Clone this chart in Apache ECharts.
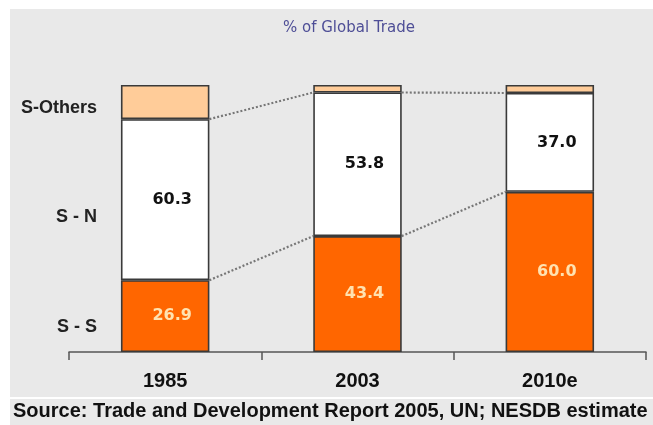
<!DOCTYPE html>
<html>
<head>
<meta charset="utf-8">
<script src="https://cdn.jsdelivr.net/npm/echarts@6/dist/echarts.min.js"></script>
<style>html,body{margin:0;padding:0;background:#fff}#c{width:653px;height:425px}</style>
</head>
<body>
<div id="c"></div>
<script>
const years = ['1985', '2003', '2010e'];
const southSouth = [26.9, 43.4, 60.0];
const southNorth = [60.3, 53.8, 37.0];
const southOthers = [12.8, 2.8, 3.0];
const rowLabels = ['S-Others', 'S - N', 'S - S'];
const titleText = '% of Global Trade';
const sourceText = 'Source: Trade and Development Report 2005, UN; NESDB estimate';

const levelSS = southSouth.map(v => v);
const levelSN = southSouth.map((v, i) => v + southNorth[i]);

const chart = echarts.init(document.getElementById('c'), null, {renderer: 'canvas'});
const BAR_FRAC = 0.46;
const border = {borderColor: '#3a3a3a', borderWidth: 1.6};
const rowFont = {fontFamily: 'Liberation Sans, Arial', fontWeight: 'bold', fontSize: 18, fill: '#222', align: 'right', verticalAlign: 'middle'};

chart.setOption({
  backgroundColor: '#ffffff',
  animation: false,
  title: {
    text: titleText,
    left: 278, top: 16,
    textStyle: {fontFamily: 'DejaVu Sans', fontSize: 15, fontWeight: 'normal', color: '#4e4e96'}
  },
  grid: {left: 69, right: 7, top: 85, bottom: 73},
  xAxis: {
    type: 'category', data: years,
    axisLine: {lineStyle: {color: '#555', width: 1.5}},
    axisTick: {show: true, length: 8, lineStyle: {color: '#555', width: 1.5}},
    axisLabel: {fontFamily: 'Liberation Sans, Arial', fontWeight: 'bold', fontSize: 20, color: '#111', margin: 19}
  },
  yAxis: {type: 'value', min: 0, max: 100, show: false},
  graphic: {elements: [
    {type: 'rect', z: -10, shape: {x: 10, y: 9, width: 643, height: 388}, style: {fill: '#e9e9e9'}},
    {type: 'rect', z: -10, shape: {x: 10, y: 399, width: 643, height: 26}, style: {fill: '#e9e9e9'}},
    {type: 'text', z: 10, x: 97, y: 108, style: Object.assign({text: rowLabels[0]}, rowFont)},
    {type: 'text', z: 10, x: 97, y: 217, style: Object.assign({text: rowLabels[1]}, rowFont)},
    {type: 'text', z: 10, x: 97, y: 327, style: Object.assign({text: rowLabels[2]}, rowFont)},
    {type: 'text', z: 10, x: 13, y: 411, style: {text: sourceText, align: 'left', verticalAlign: 'middle', fontFamily: 'Liberation Sans, Arial', fontWeight: 'bold', fontSize: 20, fill: '#111'}}
  ]},
  series: [
    {
      name: 'S - S', type: 'bar', stack: 'all', barWidth: (BAR_FRAC * 100) + '%', data: southSouth,
      itemStyle: Object.assign({color: '#ff6600'}, border),
      label: {show: true, position: 'inside', offset: [7, 0], formatter: p => p.value.toFixed(1),
        fontFamily: 'DejaVu Sans', fontWeight: 'bold', fontSize: 16, color: '#ffe2b0'}
    },
    {
      name: 'S - N', type: 'bar', stack: 'all', data: southNorth,
      itemStyle: Object.assign({color: '#ffffff'}, border),
      label: {show: true, position: 'inside', offset: [7, 0], formatter: p => p.value.toFixed(1),
        fontFamily: 'DejaVu Sans', fontWeight: 'bold', fontSize: 16, color: '#111'}
    },
    {
      name: 'S-Others', type: 'bar', stack: 'all', data: southOthers,
      itemStyle: Object.assign({color: '#ffcc99'}, border),
      label: {show: false}
    },
    {
      type: 'custom', z: 1, silent: true,
      data: years.slice(0, -1).map((y, i) => [i]),
      renderItem: function (params, api) {
        const i = api.value(0);
        const half = api.size([1, 0])[0] * BAR_FRAC / 2;
        const children = [levelSS, levelSN].map(level => {
          const p1 = api.coord([i, level[i]]);
          const p2 = api.coord([i + 1, level[i + 1]]);
          return {type: 'line', shape: {x1: p1[0] + half, y1: p1[1], x2: p2[0] - half, y2: p2[1]},
            style: {stroke: '#777777', lineWidth: 2.2, lineDash: [2, 2]}};
        });
        return {type: 'group', children: children};
      }
    }
  ]
});
</script>
</body>
</html>
